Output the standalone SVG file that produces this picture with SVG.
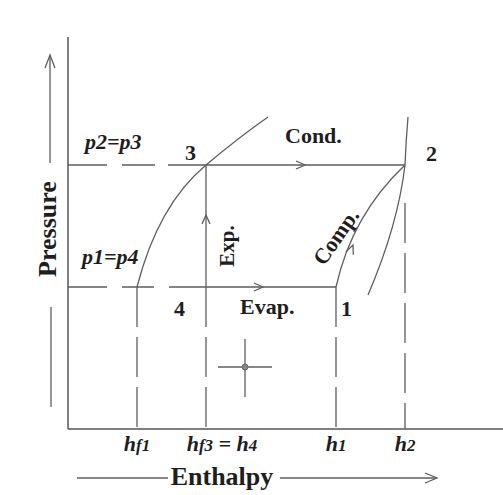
<svg xmlns="http://www.w3.org/2000/svg" width="503" height="495" viewBox="0 0 503 495">
<style>
.ln{fill:none;stroke:#5e5e5e;stroke-width:1.3}
.ax{fill:none;stroke:#555;stroke-width:1.5}
.ds{fill:none;stroke:#5e5e5e;stroke-width:1.3;stroke-dasharray:40 10}
.ch{fill:none;stroke:#5e5e5e;stroke-width:1.3}
.b{font-family:"Liberation Serif","Times New Roman",serif;font-weight:bold;fill:#1e1e1e}
.i{font-family:"Liberation Serif","Times New Roman",serif;font-style:italic;font-weight:bold;fill:#1e1e1e}
.s{font-size:17px}
</style>
<defs>
<path id="chev" d="M-9,-4 L0,0 L-9,4" class="ch"/>
</defs>
<rect width="503" height="495" fill="#fff"/>
<g id="axes">
<line class="ax" x1="68" y1="37" x2="68" y2="429"/>
<line class="ax" x1="68" y1="429" x2="503" y2="429"/>
<line class="ln" x1="50" y1="55" x2="50" y2="163"/>
<path class="ch" d="M45,68 L50,55 L55,68"/>
<line class="ln" x1="51" y1="307" x2="51" y2="407"/>
<line class="ln" x1="77" y1="478" x2="168" y2="478"/>
<line class="ln" x1="280" y1="478" x2="437" y2="478"/>
<path class="ch" d="M425,473 L437,478 L425,483"/>
<text class="b" font-size="26" text-anchor="middle" transform="translate(56,229) rotate(-90)">Pressure</text>
<text class="b" font-size="26" text-anchor="middle" x="222" y="485">Enthalpy</text>
</g>
<g id="connectors">
<path class="ln" d="M68,165 H107 M122,165 H155 M168,165 H405"/>
<path class="ln" d="M68,287 H107 M122,287 H154 M169,287 H336"/>
<path class="ln" d="M137,287 Q158,205 206,165 Q238,138 268,117"/>
<path class="ln" d="M405,165 Q406,140 408,117"/>
<path class="ln" d="M405,165 Q398,225 368,295"/>
<path class="ln" d="M336,287 Q352,215 405,165"/>
<line class="ln" x1="206" y1="287" x2="206" y2="165"/>
<line class="ds" x1="137" y1="287" x2="137" y2="429"/>
<line class="ds" x1="206" y1="287" x2="206" y2="429"/>
<line class="ds" x1="336" y1="287" x2="336" y2="429"/>
<line class="ds" x1="405" y1="203" x2="405" y2="429"/>
<use href="#chev" transform="translate(305,165)"/>
<use href="#chev" transform="translate(263,287)"/>
<use href="#chev" transform="translate(206,215) rotate(-90)"/>
<use href="#chev" transform="translate(353,245) rotate(-68)"/>
</g>
<g id="cross">
<line class="ln" x1="218" y1="367" x2="272" y2="367"/>
<line class="ln" x1="245" y1="339" x2="245" y2="397"/>
<circle cx="245" cy="367" r="3" fill="#888" stroke="#666" stroke-width="1"/>
</g>
<g id="state-1"><text class="b" font-size="22" x="341" y="316">1</text></g>
<g id="state-2"><text class="b" font-size="22" x="426" y="161">2</text></g>
<g id="state-3"><text class="b" font-size="22" x="185" y="160">3</text></g>
<g id="state-4"><text class="b" font-size="22" x="174" y="316">4</text></g>
<g id="labels">
<text class="i" font-size="22" x="85" y="149">p2=p3</text>
<text class="i" font-size="22" x="82" y="264">p1=p4</text>
<text class="b" font-size="22" x="285" y="143">Cond.</text>
<text class="b" font-size="22" x="240" y="314">Evap.</text>
<text class="b" font-size="21" text-anchor="middle" transform="translate(234,246) rotate(-90)">Exp.</text>
<text class="b" font-size="22" text-anchor="middle" transform="translate(342,241) rotate(-55)">Comp.</text>
<text class="i" font-size="22" text-anchor="middle" x="137" y="451">h<tspan class="s">f1</tspan></text>
<text class="i" font-size="22" text-anchor="middle" x="222" y="451">h<tspan class="s">f3</tspan> = h<tspan class="s">4</tspan></text>
<text class="i" font-size="22" text-anchor="middle" x="336" y="451">h<tspan class="s">1</tspan></text>
<text class="i" font-size="22" text-anchor="middle" x="405" y="451">h<tspan class="s">2</tspan></text>
</g>
</svg>
